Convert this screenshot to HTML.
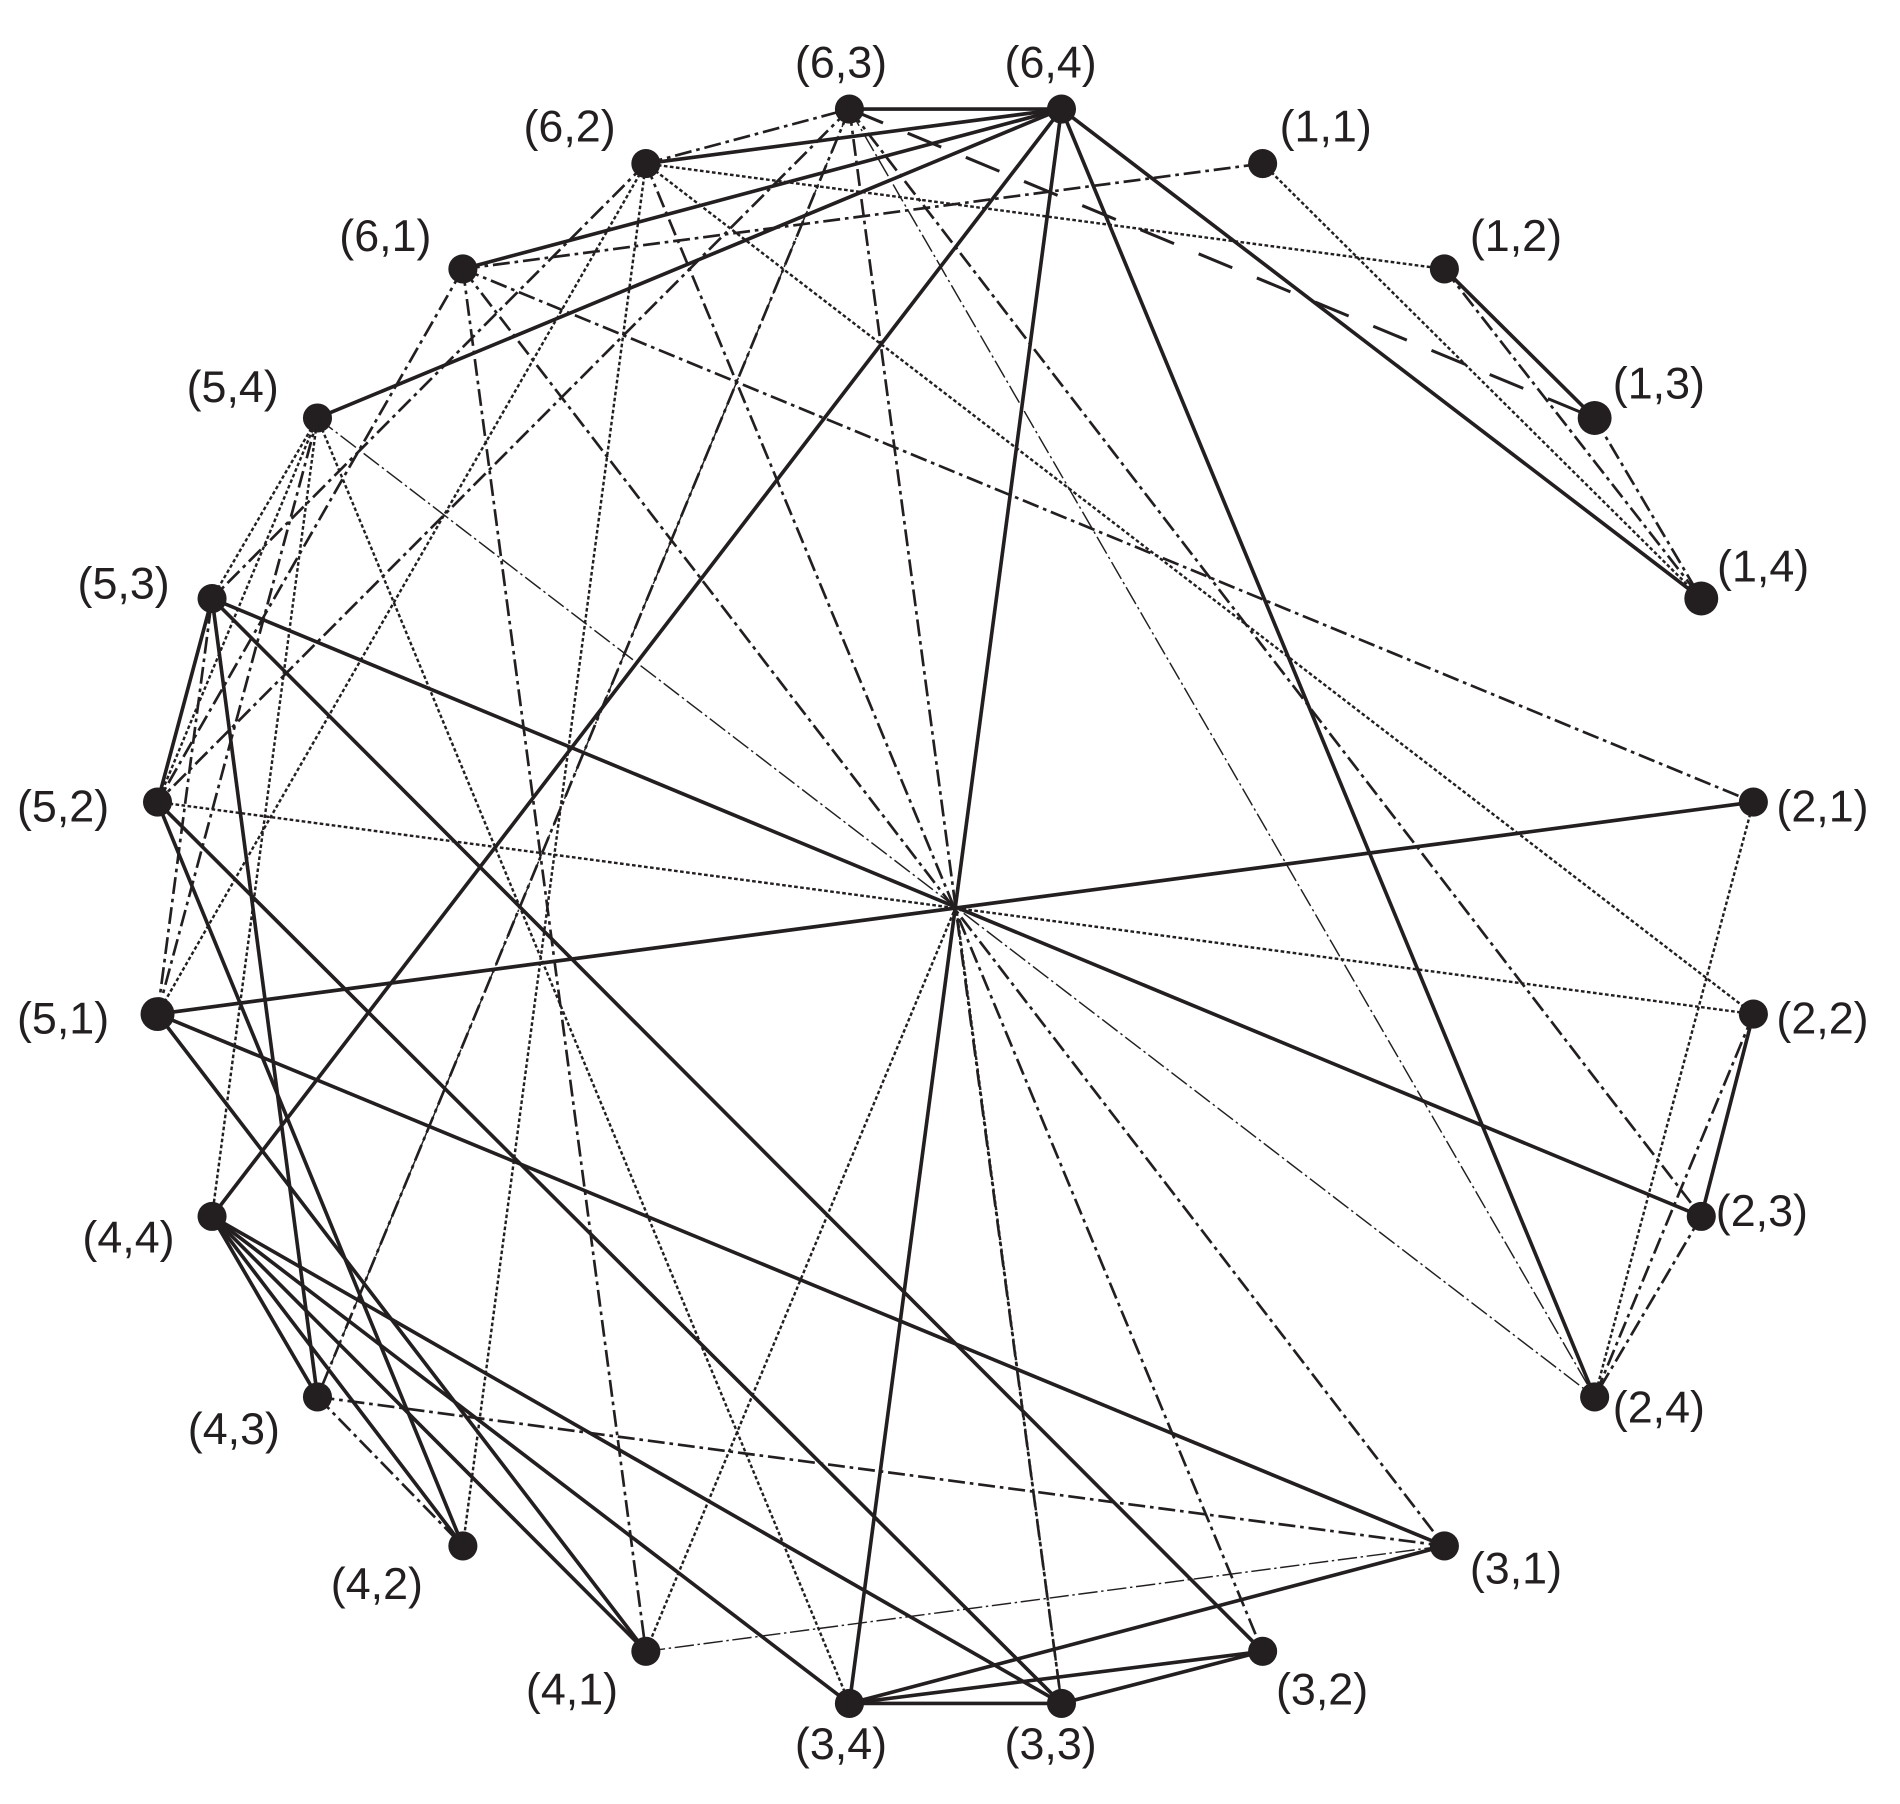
<!DOCTYPE html>
<html><head><meta charset="utf-8"><style>
html,body{margin:0;padding:0;background:#fff;}
svg{display:block;}
text{font-family:"Liberation Sans",sans-serif;font-size:37px;fill:#231f20;}
</style></head><body>
<svg width="1900" height="1804" viewBox="0 0 1568 1489" preserveAspectRatio="none" xmlns="http://www.w3.org/2000/svg">
<g stroke="#231f20" fill="none">
<g stroke-width="3">
<line x1="701" y1="90" x2="876" y2="90"/>
<line x1="533" y1="135" x2="876" y2="90"/>
<line x1="382" y1="222" x2="876" y2="90"/>
<line x1="262" y1="345" x2="876" y2="90"/>
<line x1="876" y1="90" x2="1404" y2="494"/>
<line x1="876" y1="90" x2="1316" y2="1153"/>
<line x1="876" y1="90" x2="701" y2="1406"/>
<line x1="876" y1="90" x2="175" y2="1004"/>
<line x1="175" y1="494" x2="130" y2="662"/>
<line x1="175" y1="494" x2="262" y2="1153"/>
<line x1="175" y1="494" x2="1042" y2="1363"/>
<line x1="175" y1="494" x2="1404" y2="1004"/>
<line x1="130" y1="837" x2="1447" y2="662"/>
<line x1="130" y1="837" x2="1192" y2="1276"/>
<line x1="130" y1="837" x2="533" y2="1363"/>
<line x1="130" y1="662" x2="382" y2="1276"/>
<line x1="130" y1="662" x2="876" y2="1406"/>
<line x1="175" y1="1004" x2="262" y2="1153"/>
<line x1="175" y1="1004" x2="382" y2="1276"/>
<line x1="175" y1="1004" x2="533" y2="1363"/>
<line x1="175" y1="1004" x2="701" y2="1406"/>
<line x1="175" y1="1004" x2="876" y2="1406"/>
<line x1="701" y1="1406" x2="876" y2="1406"/>
<line x1="701" y1="1406" x2="1042" y2="1363"/>
<line x1="701" y1="1406" x2="1192" y2="1276"/>
<line x1="876" y1="1406" x2="1042" y2="1363"/>
<line x1="1447" y1="837" x2="1404" y2="1004"/>
<line x1="1192" y1="222" x2="1316" y2="345"/>
</g>
<g stroke-width="2.2" stroke-dasharray="14 4 3 4">
<line x1="533" y1="135" x2="701" y2="90"/>
<line x1="382" y1="222" x2="1042" y2="135"/>
<line x1="701" y1="90" x2="130" y2="662"/>
<line x1="701" y1="90" x2="262" y2="1153"/>
<line x1="701" y1="90" x2="876" y2="1406"/>
<line x1="701" y1="90" x2="1404" y2="1004"/>
<line x1="533" y1="135" x2="1042" y2="1363"/>
<line x1="382" y1="222" x2="1447" y2="662"/>
<line x1="382" y1="222" x2="533" y2="1363"/>
<line x1="382" y1="222" x2="130" y2="662"/>
<line x1="382" y1="222" x2="1192" y2="1276"/>
<line x1="533" y1="135" x2="175" y2="494"/>
<line x1="130" y1="837" x2="175" y2="494"/>
<line x1="262" y1="1153" x2="382" y2="1276"/>
<line x1="262" y1="1153" x2="1192" y2="1276"/>
<line x1="1447" y1="837" x2="1316" y2="1153"/>
<line x1="1404" y1="1004" x2="1316" y2="1153"/>
<line x1="1192" y1="222" x2="1404" y2="494"/>
<line x1="1316" y1="345" x2="1404" y2="494"/>
<line x1="130" y1="837" x2="262" y2="345"/>
</g>
<line x1="701" y1="90" x2="1316" y2="345" stroke-width="2.5" stroke-dasharray="30 22"/>
<g stroke-width="2" stroke-dasharray="3 2">
<line x1="533" y1="135" x2="1192" y2="222"/>
<line x1="533" y1="135" x2="382" y2="1276"/>
<line x1="533" y1="135" x2="130" y2="837"/>
<line x1="533" y1="135" x2="1447" y2="837"/>
<line x1="1042" y1="135" x2="1404" y2="494"/>
<line x1="262" y1="345" x2="175" y2="494"/>
<line x1="262" y1="345" x2="130" y2="662"/>
<line x1="262" y1="345" x2="175" y2="1004"/>
<line x1="262" y1="345" x2="701" y2="1406"/>
<line x1="130" y1="662" x2="1447" y2="837"/>
<line x1="1447" y1="662" x2="1316" y2="1153"/>
<line x1="789" y1="748" x2="533" y2="1363"/>
<line x1="789" y1="748" x2="876" y2="1406"/>
</g>
<g stroke-width="1.2" stroke-dasharray="16 3 2 3">
<line x1="262" y1="345" x2="1316" y2="1153"/>
<line x1="701" y1="90" x2="1316" y2="1153"/>
<line x1="533" y1="1363" x2="1192" y2="1276"/>
<line x1="701" y1="90" x2="262" y2="1153"/>
</g>
</g>
<g fill="#231f20">
<circle cx="701" cy="90" r="12"/><circle cx="876" cy="90" r="12"/>
<circle cx="533" cy="135" r="12"/><circle cx="1042" cy="135" r="12"/>
<circle cx="382" cy="222" r="12"/><circle cx="1192" cy="222" r="12"/>
<circle cx="262" cy="345" r="12"/><circle cx="1316" cy="345" r="14"/>
<circle cx="175" cy="494" r="12"/><circle cx="1404" cy="494" r="14"/>
<circle cx="130" cy="662" r="12"/><circle cx="1447" cy="662" r="12"/>
<circle cx="130" cy="837" r="14"/><circle cx="1447" cy="837" r="12"/>
<circle cx="175" cy="1004" r="12"/><circle cx="1404" cy="1004" r="12"/>
<circle cx="262" cy="1153" r="12"/><circle cx="1316" cy="1153" r="12"/>
<circle cx="382" cy="1276" r="12"/><circle cx="1192" cy="1276" r="12"/>
<circle cx="533" cy="1363" r="12"/><circle cx="1042" cy="1363" r="12"/>
<circle cx="701" cy="1406" r="12"/><circle cx="876" cy="1406" r="12"/>
</g>
<text x="656" y="64">(6,3)</text>
<text x="829" y="64">(6,4)</text>
<text x="432" y="117">(6,2)</text>
<text x="1056" y="117">(1,1)</text>
<text x="280" y="207">(6,1)</text>
<text x="1213" y="207">(1,2)</text>
<text x="154" y="332">(5,4)</text>
<text x="1331" y="329">(1,3)</text>
<text x="64" y="494">(5,3)</text>
<text x="1417" y="480">(1,4)</text>
<text x="14" y="678">(5,2)</text>
<text x="1466" y="678">(2,1)</text>
<text x="14" y="853">(5,1)</text>
<text x="1466" y="853">(2,2)</text>
<text x="68" y="1034">(4,4)</text>
<text x="1416" y="1012">(2,3)</text>
<text x="155" y="1192">(4,3)</text>
<text x="1331" y="1174">(2,4)</text>
<text x="273" y="1320">(4,2)</text>
<text x="1213" y="1307">(3,1)</text>
<text x="434" y="1407">(4,1)</text>
<text x="1053" y="1407">(3,2)</text>
<text x="656" y="1452">(3,4)</text>
<text x="829" y="1452">(3,3)</text>
</svg>
</body></html>
